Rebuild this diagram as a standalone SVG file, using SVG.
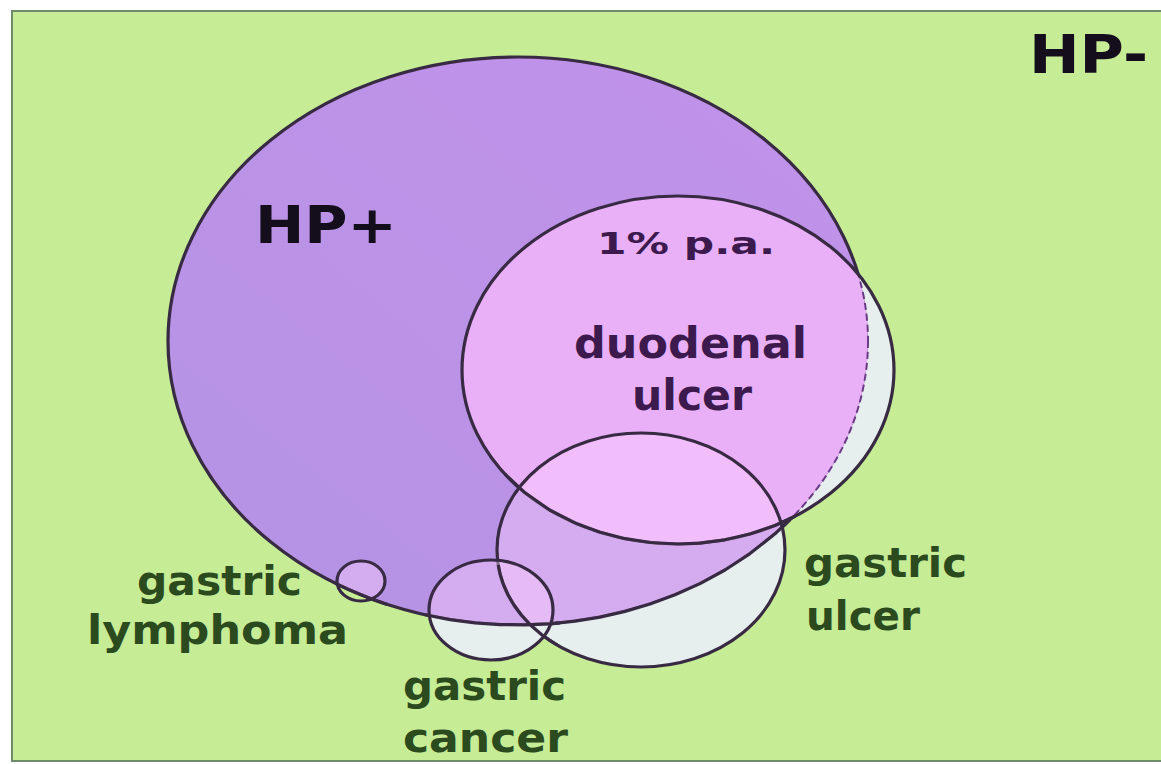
<svg xmlns="http://www.w3.org/2000/svg" width="1161" height="764" viewBox="0 0 1161 764">
<style>
  .lbl { font-family: "DejaVu Sans", "Verdana", sans-serif; font-weight: bold; }
  .green { fill: #2b4a1e; }
  .purple { fill: #3d1a4e; }
  .dark { fill: #140e1c; }
  .outline { fill: none; stroke: #382a42; stroke-width: 3.2; stroke-linejoin: round; }
</style>
<defs>
  <linearGradient id="hpGrad" x1="0" y1="1" x2="1" y2="0">
    <stop offset="0" stop-color="#b493e4"/>
    <stop offset="1" stop-color="#c292ea"/>
  </linearGradient>
  <clipPath id="inHP"><ellipse cx="518" cy="341" rx="350" ry="284"/></clipPath>
  <clipPath id="inDuo"><ellipse cx="678" cy="370" rx="216" ry="174"/></clipPath>
  <mask id="outHP" maskUnits="userSpaceOnUse" x="0" y="0" width="1161" height="764">
    <rect x="0" y="0" width="1161" height="764" fill="#fff"/>
    <ellipse cx="518" cy="341" rx="350" ry="284" fill="#000"/>
  </mask>
</defs>

<g id="background">
  <rect x="0" y="0" width="1161" height="764" fill="#ffffff"/>
  <rect x="12" y="11" width="1160" height="750" fill="#c6ec96" stroke="#6e8c6c" stroke-width="2"/>
</g>

<g id="hp-minus">
  <text class="lbl dark" x="1029" y="73" font-size="54" textLength="119" lengthAdjust="spacingAndGlyphs">HP-</text>
</g>

<g id="hp-plus">
  <ellipse cx="518" cy="341" rx="350" ry="284" fill="url(#hpGrad)"/>
  <ellipse cx="518" cy="341" rx="350" ry="284" class="outline"/>
  <text class="lbl dark" x="255" y="243" font-size="52" textLength="142" lengthAdjust="spacingAndGlyphs">HP+</text>
</g>

<g id="duodenal-ulcer">
  <ellipse cx="678" cy="370" rx="216" ry="174" fill="#e6eeee" mask="url(#outHP)"/>
  <ellipse cx="678" cy="370" rx="216" ry="174" fill="#e9b0f8" clip-path="url(#inHP)"/>
  <ellipse cx="518" cy="341" rx="350" ry="284" fill="none" stroke="#6a3a86" stroke-width="2" stroke-dasharray="7 4" clip-path="url(#inDuo)"/>
  <ellipse cx="678" cy="370" rx="216" ry="174" class="outline"/>
  <text class="lbl purple" x="597" y="254" font-size="31" textLength="178" lengthAdjust="spacingAndGlyphs">1% p.a.</text>
  <text class="lbl purple" x="574" y="358" font-size="42" textLength="233" lengthAdjust="spacingAndGlyphs">duodenal</text>
  <text class="lbl purple" x="632" y="410" font-size="42" textLength="120" lengthAdjust="spacingAndGlyphs">ulcer</text>
</g>

<g id="gastric-ulcer">
  <ellipse cx="641" cy="550" rx="144" ry="117" fill="#e6eeee" mask="url(#outHP)"/>
  <ellipse cx="641" cy="550" rx="144" ry="117" fill="#ffd2ff" fill-opacity="0.4" clip-path="url(#inHP)"/>
  <polyline class="outline" points="520,625 550,623.8 575,621.2 600,617.1 625,611.4 650,604 675,594.8 700,583.6 725,570 750,553.6 775,533.8 790,519.7"/>
  <polyline class="outline" points="505,474.2 525,492.8 550,510.2 575,522.9 600,532.3 625,538.7 650,542.5 678,544 700,543.1 725,539.8 750,534 775,525.5 795,516.3"/>
  <ellipse cx="641" cy="550" rx="144" ry="117" class="outline"/>
  <text class="lbl green" x="804" y="577" font-size="41" textLength="163" lengthAdjust="spacingAndGlyphs">gastric</text>
  <text class="lbl green" x="806" y="630" font-size="41" textLength="114" lengthAdjust="spacingAndGlyphs">ulcer</text>
</g>

<g id="gastric-cancer">
  <ellipse cx="491" cy="610" rx="62" ry="50" fill="#e6eeee" mask="url(#outHP)"/>
  <ellipse cx="491" cy="610" rx="62" ry="50" fill="#ffd2ff" fill-opacity="0.4" clip-path="url(#inHP)"/>
  <polyline class="outline" points="425,614.8 450,619.6 475,622.9 500,624.6 525,624.9 550,623.8 560,622.9"/>
  <polyline class="outline" points="498.2,565 500.3,575 503.6,585 508.1,595 513.9,605 521.3,615 530.5,625 542,635 557,645"/>
  <ellipse cx="491" cy="610" rx="62" ry="50" class="outline"/>
  <text class="lbl green" x="403" y="700" font-size="41" textLength="163" lengthAdjust="spacingAndGlyphs">gastric</text>
  <text class="lbl green" x="403" y="752" font-size="41" textLength="165" lengthAdjust="spacingAndGlyphs">cancer</text>
</g>

<g id="gastric-lymphoma">
  <ellipse cx="361" cy="581" rx="24" ry="20" fill="#ffd2ff" fill-opacity="0.4" clip-path="url(#inHP)"/>
  <polyline class="outline" points="335,583.1 348,589.3 361,594.8 374,599.9 387,604.4"/>
  <ellipse cx="361" cy="581" rx="24" ry="20" class="outline"/>
  <text class="lbl green" x="137" y="595" font-size="41" textLength="165" lengthAdjust="spacingAndGlyphs">gastric</text>
  <text class="lbl green" x="87" y="644" font-size="41" textLength="261" lengthAdjust="spacingAndGlyphs">lymphoma</text>
</g>

<g id="connectors"/>
</svg>
